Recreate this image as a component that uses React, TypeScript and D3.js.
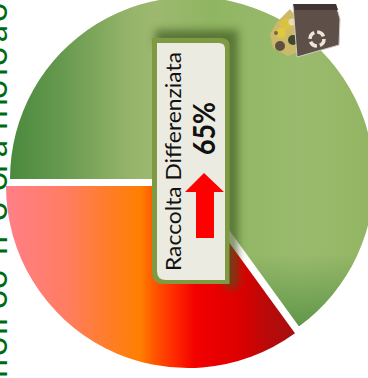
import React from "react";
import * as d3 from "d3";

const sliceNames = ["Raccolta Differenziata", "Altro"];
const sliceValues = [65, 35];
const headline = "Raccolta Differenziata";
const valueLabel = "65%";
const sideText = "noiioonoolaiiioloao";
const sideGlyphStarts = [0, 22, 43, 52, 69, 89, 123, 157, 187, 205, 221, 248, 260, 272, 279, 302, 312, 336, 356];

const width = 368;
const height = 378;
const radius = 182;

const pieGen = d3
  .pie<number>()
  .sort(null)
  .startAngle(-Math.PI / 2)
  .endAngle((3 * Math.PI) / 2);
const arcGen = d3.arc<d3.PieArcDatum<number>>().innerRadius(0).outerRadius(radius);
const arcs = pieGen(sliceValues);

const greenStops: [number, string][] = [
  [0, "#4a8a3e"],
  [0.15, "#689a50"],
  [0.32, "#94b369"],
  [0.4, "#9db96f"],
  [0.55, "#8fb562"],
  [0.8, "#9abb6d"],
  [1, "#92b562"],
];
const redStops: [number, string][] = [
  [0, "#ff7f88"],
  [0.2, "#ff7d62"],
  [0.33, "#ff7d30"],
  [0.46, "#ff7f00"],
  [0.51, "#ff5500"],
  [0.58, "#ff2800"],
  [0.65, "#f30000"],
  [0.8, "#dd0000"],
  [0.9, "#b80a0a"],
  [1, "#a50e10"],
];

export default function App() {
  const greenPath = arcGen(arcs[0]) ?? "";
  const redPath = arcGen(arcs[1]) ?? "";
  return (
    <svg
      width={width}
      height={height}
      viewBox={`0 0 ${width} ${height}`}
      style={{ position: "absolute", left: 0, top: 0, display: "block", background: "#fff" }}
    >
      <defs>
        <linearGradient id="g" gradientUnits="userSpaceOnUse" x1={-radius} x2={radius} y1={0} y2={0}>
          {greenStops.map(([o, c]) => (
            <stop key={o} offset={o} stopColor={c} />
          ))}
        </linearGradient>
        <linearGradient id="gTip" gradientUnits="userSpaceOnUse" x1={0} x2={0} y1={75} y2={146}>
          <stop offset={0} stopColor="#5f9548" stopOpacity={0} />
          <stop offset={1} stopColor="#5f9548" stopOpacity={0.95} />
        </linearGradient>
        <linearGradient id="r" gradientUnits="userSpaceOnUse" x1={-181} x2={109} y1={0} y2={0}>
          {redStops.map(([o, c]) => (
            <stop key={o} offset={o} stopColor={c} />
          ))}
        </linearGradient>
        <filter id="blur" x="-30%" y="-30%" width="160%" height="160%">
          <feGaussianBlur stdDeviation={4} />
        </filter>
        <filter id="soft" x="-10%" y="-10%" width="120%" height="120%">
          <feGaussianBlur stdDeviation={0.6} />
        </filter>
      </defs>

      <text
        transform={`translate(7,${height}) rotate(-90)`}
        x={sideGlyphStarts.join(" ")}
        fontFamily="Lato, sans-serif"
        fontSize={34}
        fill="#006a12"
      >
        {sideText}
      </text>

      <g transform="translate(192,179)">
        <path d={greenPath} fill="url(#g)">
          <title>{sliceNames[0]}</title>
        </path>
        <path d={greenPath} fill="url(#gTip)" />
      </g>
      <g transform="translate(188,186)">
        <path d={redPath} fill="url(#r)">
          <title>{sliceNames[1]}</title>
        </path>
      </g>

      {/* recycling bin */}
      <g filter="url(#soft)">
        <path d="M277 22 L290 9 L297 18 L298 52 L288 56 L273 48 L270 34 Z" fill="#cdb96a" />
        <circle cx={286} cy={24} r={6} fill="#d9c23f" />
        <circle cx={281} cy={33} r={5} fill="#e0c93f" />
        <circle cx={292} cy={22} r={3.5} fill="#e8dcb0" />
        <circle cx={280} cy={46} r={5} fill="#5f5040" />
        <circle cx={276} cy={33} r={2} fill="#7a6a40" />
        <circle cx={293} cy={40} r={5} fill="#3f4a2a" />
        <path d="M293 5 L336 5 L340 19 L339 45 L297 57 Z" fill="#5e5049" stroke="#cfcac4" strokeWidth={1} />
        <path d="M293 4 L336 4 L338 10 L295 10 Z" fill="#3f3632" />
        <circle cx={317} cy={39} r={7} fill="none" stroke="#eee6d8" strokeWidth={3.5} strokeDasharray="8 3" />
      </g>

      {/* panel */}
      <path d="M155 30 H238 V288 H225 V46 H155 Z" fill="#3f5a22" opacity={0.7} filter="url(#blur)" />
      <path
        d="M152 38 H221 Q229.5 38 229.5 46 V284 H164 Q152 284 152 272 Z"
        fill="#7f9a42"
      />
      <path
        d="M157 43 H219 Q225 43 225 49 V280 H166 Q157 280 157 271 Z"
        fill="#ecebe1"
      />
      <text
        transform="translate(181,271) rotate(-90)"
        fontFamily="Lato, sans-serif"
        fontSize={21}
        fill="#111"
        textLength={219}
        lengthAdjust="spacingAndGlyphs"
      >
        {headline}
      </text>
      <text
        transform="translate(215,155) rotate(-90)"
        fontFamily="Lato, sans-serif"
        fontWeight={700}
        fontSize={31}
        fill="#111"
        textLength={53}
        lengthAdjust="spacingAndGlyphs"
      >
        {valueLabel}
      </text>
      <path d="M204 173 L224 192 H214 V238 H196 V192 H185 Z" fill="#ff0000" />
    </svg>
  );
}
